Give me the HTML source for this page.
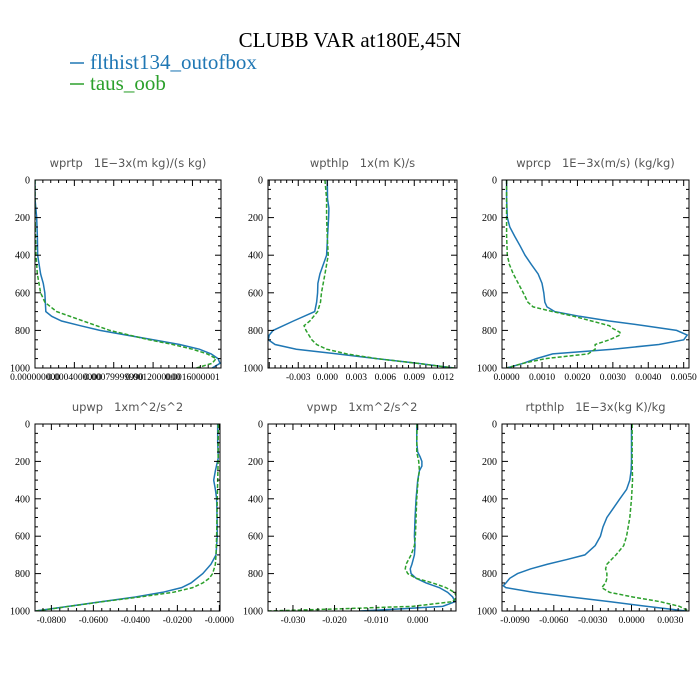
<!DOCTYPE html>
<html><head><meta charset="utf-8"><style>
body{margin:0;background:#fff}
svg{display:block}
</style></head><body>
<svg id="chart" width="700" height="700" viewBox="0 0 700 700" xmlns="http://www.w3.org/2000/svg">
<text x="350" y="47" text-anchor="middle" font-family="Liberation Serif, serif" font-size="21" fill="#000">CLUBB VAR at180E,45N</text>
<g>
<line x1="70" y1="63" x2="84" y2="63" stroke="#1f77b4" stroke-width="1.5"/>
<text x="90" y="69" font-family="Liberation Serif, serif" font-size="21" fill="#1f77b4">flthist134_outofbox</text>
<line x1="70" y1="84" x2="84" y2="84" stroke="#2ca02c" stroke-width="1.5"/>
<text x="90" y="90" font-family="Liberation Serif, serif" font-size="21" fill="#2ca02c">taus_oob</text>
</g>
</svg>
<script>
// ---- data ----
const wprtpBlueLev=[0,100,200,300,400,500,550,600,650,700,725,750,775,800,825,850,875,900,925,950,975,1000];
const wprtpBlue=[0,0,0.000017,0.000024,0.000027,0.000057,0.000084,0.0001,0.000105,0.00011,0.00017,0.00027,0.00046,0.00066,0.00093,0.0012,0.00147,0.00167,0.00179,0.00186,0.00188,0.0018];
const wprtpGreenLev=[0,200,400,500,600,650,700,750,800,825,850,875,900,925,950,975,1000];
const wprtpGreen=[0,0,0.00001,0.000024,0.000057,0.0001,0.00022,0.00049,0.00076,0.00096,0.00116,0.0014,0.0016,0.00175,0.00184,0.0018,0.00164];

const wpthlpBlueLev=[0,100,150,200,300,400,500,550,600,650,700,750,800,825,850,875,900,925,950,975,1000];
const wpthlpBlue=[0,0.00003,0.00017,0.00014,0.00003,-0.00007,-0.00076,-0.00097,-0.001,-0.0011,-0.0013,-0.0035,-0.0056,-0.006,-0.0061,-0.0054,-0.0032,0.001,0.0051,0.0093,0.0131];
const wpthlpGreenLev=[0,100,200,300,400,500,600,650,700,750,775,800,850,875,900,925,950,975,1000];
const wpthlpGreen=[-0.00024,-0.00007,-0.00007,0,0.0001,-0.00024,-0.0006,-0.0007,-0.001,-0.0018,-0.0024,-0.0022,-0.0016,-0.0011,-0.00007,0.002,0.0051,0.0093,0.0131];

const wprcpBlueLev=[0,100,200,250,300,350,400,450,500,550,600,650,675,700,725,750,775,800,825,850,875,900,925,950,975,1000];
const wprcpBlue=[0,0,0.00002,0.00009,0.00023,0.00038,0.00052,0.0007,0.00089,0.001,0.00105,0.00108,0.00114,0.00136,0.00206,0.0029,0.0039,0.0048,0.0051,0.005,0.0043,0.003,0.0013,0.00084,0.00047,0];
const wprcpGreenLev=[0,300,400,450,500,550,600,650,675,700,725,750,775,790,810,825,850,875,900,925,950,975,1000];
const wprcpGreen=[0,0,0.00002,0.00008,0.00019,0.00033,0.00047,0.0006,0.00075,0.0013,0.0019,0.0024,0.0029,0.003,0.0032,0.0032,0.0029,0.0025,0.0025,0.0023,0.0011,0.00047,0];

const upwpBlueLev=[0,100,180,250,300,350,400,500,600,700,750,800,850,875,900,925,950,975,1000];
const upwpBlue=[-0.0008,-0.0008,-0.0005,-0.0019,-0.0027,-0.0019,-0.0013,-0.0011,-0.001,-0.0016,-0.004,-0.0079,-0.0135,-0.018,-0.027,-0.040,-0.056,-0.072,-0.0876];
const upwpGreenLev=[0,200,400,600,700,750,800,825,850,875,900,925,950,975,1000];
const upwpGreen=[-0.0005,-0.0006,-0.001,-0.0013,-0.0016,-0.0019,-0.0032,-0.0048,-0.0079,-0.0127,-0.022,-0.038,-0.0556,-0.0714,-0.0873];

const vpwpBlueLev=[0,100,150,175,200,225,250,300,400,500,600,650,700,750,775,800,825,850,875,900,925,950,975,990,1000];
const vpwpBlue=[-0.00024,-0.00024,0,0.00056,0.001,0.001,0.0004,0,-0.0004,-0.00064,-0.0008,-0.00064,-0.0008,-0.0014,-0.0018,-0.0016,-0.0004,0.002,0.0052,0.0072,0.0084,0.009,0.006,-0.0052,-0.014];
const vpwpGreenLev=[0,150,200,250,300,400,500,600,650,700,750,775,800,825,850,875,900,925,950,975,990,1000];
const vpwpGreen=[-0.00016,-0.00024,0.00024,0.0004,0.00008,-0.00024,-0.0004,-0.00056,-0.0008,-0.0016,-0.0028,-0.003,-0.0024,-0.0004,0.0036,0.0068,0.0088,0.0094,0.0084,-0.0012,-0.021,-0.036];

const rtpthlpBlueLev=[0,200,250,300,350,400,450,500,550,600,650,700,725,750,775,800,825,850,865,875,900,925,950,975,1000];
const rtpthlpBlue=[0,0,-0.00003,-0.00013,-0.00038,-0.0009,-0.0014,-0.0019,-0.0022,-0.0024,-0.0028,-0.0036,-0.005,-0.0065,-0.0078,-0.0088,-0.0094,-0.0097,-0.0099,-0.0097,-0.0076,-0.0047,-0.0017,0.0012,0.0042];
const rtpthlpGreenLev=[0,200,300,400,500,600,650,700,750,775,800,825,850,875,900,925,950,975,1000];
const rtpthlpGreen=[0.00005,0.00005,0.00008,0,-0.00013,-0.00038,-0.0006,-0.0012,-0.0019,-0.0020,-0.0019,-0.0019,-0.0020,-0.0023,-0.0017,0.0001,0.0022,0.0037,0.0044];

const yTicks=[0,200,400,600,800,1000];
const t1Ticks=[0,0.0004,0.0008,0.0012,0.0016];
const t1Labels=["0.000000000","0.0004000000","0.00079999990","0.0012000000","0.0016000001"];
const t2Ticks=[-0.003,0,0.003,0.006,0.009,0.012];
const t2Labels=["-0.003","0.000","0.003","0.006","0.009","0.012"];
const t3Ticks=[0,0.001,0.002,0.003,0.004,0.005];
const t3Labels=["0.0000","0.0010","0.0020","0.0030","0.0040","0.0050"];
const t4Ticks=[-0.08,-0.06,-0.04,-0.02,0];
const t4Labels=["-0.0800","-0.0600","-0.0400","-0.0200","-0.0000"];
const t5Ticks=[-0.03,-0.02,-0.01,0];
const t5Labels=["-0.030","-0.020","-0.010","0.000"];
const t6Ticks=[-0.009,-0.006,-0.003,0,0.003];
const t6Labels=["-0.0090","-0.0060","-0.0030","0.0000","0.0030"];

// ---- layout ----
const panels=[
 {name:'wprtp',title:'wprtp  1E\u22123x(m kg)/(s kg)',x0:35,x1:221,y0:180,y1:368,xmin:0,xmax:0.00189,ticks:t1Ticks,labels:t1Labels,fs:9.5,bl:wprtpBlueLev,bv:wprtpBlue,gl:wprtpGreenLev,gv:wprtpGreen},
 {name:'wpthlp',title:'wpthlp  1x(m K)/s',x0:268,x1:457,y0:180,y1:368,xmin:-0.00613,xmax:0.01342,ticks:t2Ticks,labels:t2Labels,fs:9.5,bl:wpthlpBlueLev,bv:wpthlpBlue,gl:wpthlpGreenLev,gv:wpthlpGreen},
 {name:'wprcp',title:'wprcp  1E\u22123x(m/s) (kg/kg)',x0:502,x1:689,y0:180,y1:368,xmin:-0.00013,xmax:0.00515,ticks:t3Ticks,labels:t3Labels,fs:9.5,bl:wprcpBlueLev,bv:wprcpBlue,gl:wprcpGreenLev,gv:wprcpGreen},
 {name:'upwp',title:'upwp  1xm^2/s^2',x0:35,x1:220,y0:424,y1:611,xmin:-0.0878,xmax:0.0003,ticks:t4Ticks,labels:t4Labels,fs:9.5,bl:upwpBlueLev,bv:upwpBlue,gl:upwpGreenLev,gv:upwpGreen},
 {name:'vpwp',title:'vpwp  1xm^2/s^2',x0:268,x1:456,y0:424,y1:611,xmin:-0.036,xmax:0.0092,ticks:t5Ticks,labels:t5Labels,fs:9.5,bl:vpwpBlueLev,bv:vpwpBlue,gl:vpwpGreenLev,gv:vpwpGreen},
 {name:'rtpthlp',title:'rtpthlp  1E\u22123x(kg K)/kg',x0:502,x1:689,y0:424,y1:611,xmin:-0.0100,xmax:0.00444,ticks:t6Ticks,labels:t6Labels,fs:9.5,bl:rtpthlpBlueLev,bv:rtpthlpBlue,gl:rtpthlpGreenLev,gv:rtpthlpGreen}
];
const NS='http://www.w3.org/2000/svg';
const svg=document.getElementById('chart');
function mk(tag,attrs,parent){const e=document.createElementNS(NS,tag);for(const k in attrs)e.setAttribute(k,attrs[k]);parent.appendChild(e);return e;}
panels.forEach((p,pi)=>{
 const g=mk('g',{},svg);
 
 
 const sx=v=>p.x0+(v-p.xmin)/(p.xmax-p.xmin)*(p.x1-p.x0);
 const sy=v=>p.y0+v/1000*(p.y1-p.y0);
 const t=mk('text',{x:(p.x0+p.x1)/2,y:p.y0-13,'text-anchor':'middle','font-family':'DejaVu Sans, sans-serif','font-size':'11.5',fill:'#555'},g);
 t.textContent=p.title.replace(/  /g,'\u00a0\u00a0\u00a0');
 
 
 const cid='clip'+pi;
 const cp=mk('clipPath',{id:cid},g);
 mk('rect',{x:p.x0,y:p.y0,width:p.x1-p.x0,height:p.y1-p.y0},cp);
 const series=[[p.bl,p.bv,'#1f77b4',null,'series-flthist134'],[p.gl,p.gv,'#2ca02c','4,2','series-taus-oob']];
 series.forEach(s=>{
  const d=s[0].map((lv,i)=>(i?'L':'M')+sx(s[1][i]).toFixed(2)+','+sy(lv).toFixed(2)).join(' ');
  const path=mk('path',{d:d,fill:'none',stroke:s[2],'stroke-width':'1.5','clip-path':'url(#'+cid+')'},g);
  if(s[3])path.setAttribute('stroke-dasharray',s[3]);
  
  
 });
 for(let v=0;v<=1000;v+=50){
  const major=v%200===0, len=major?6:3;
  const y=sy(v);
  mk('line',{x1:p.x0,y1:y,x2:p.x0+len,y2:y,stroke:'#000','stroke-width':'1'},g);
  mk('line',{x1:p.x1,y1:y,x2:p.x1-len,y2:y,stroke:'#000','stroke-width':'1'},g);
 }
 yTicks.forEach(v=>{
  const tl=mk('text',{x:p.x0-5,y:sy(v)+3.5,'text-anchor':'end','font-family':'Liberation Serif, serif','font-size':'10',fill:'#000'},g);
  tl.textContent=String(v);
  
  
 });
 const step=p.ticks[1]-p.ticks[0];
 for(let k=-30;k<=60;k++){
  const v=p.ticks[0]+k*step/5;
  if(v<p.xmin-1e-12||v>p.xmax+1e-12)continue;
  const major=Math.abs(k%5)===0, len=major?6:3;
  const x=sx(v);
  mk('line',{x1:x,y1:p.y0,x2:x,y2:p.y0+len,stroke:'#000','stroke-width':'1'},g);
  mk('line',{x1:x,y1:p.y1,x2:x,y2:p.y1-len,stroke:'#000','stroke-width':'1'},g);
 }
 p.ticks.forEach((v,i)=>{
  const tl=mk('text',{x:sx(v),y:p.y1+12,'text-anchor':'middle','font-family':'Liberation Serif, serif','font-size':p.fs,fill:'#000'},g);
  tl.textContent=p.labels[i];
  
  
 });
 const fr=mk('rect',{x:p.x0,y:p.y0,width:p.x1-p.x0,height:p.y1-p.y0,fill:'none',stroke:'#000','stroke-width':'1'},g);
 
 
});
</script>
</body></html>
